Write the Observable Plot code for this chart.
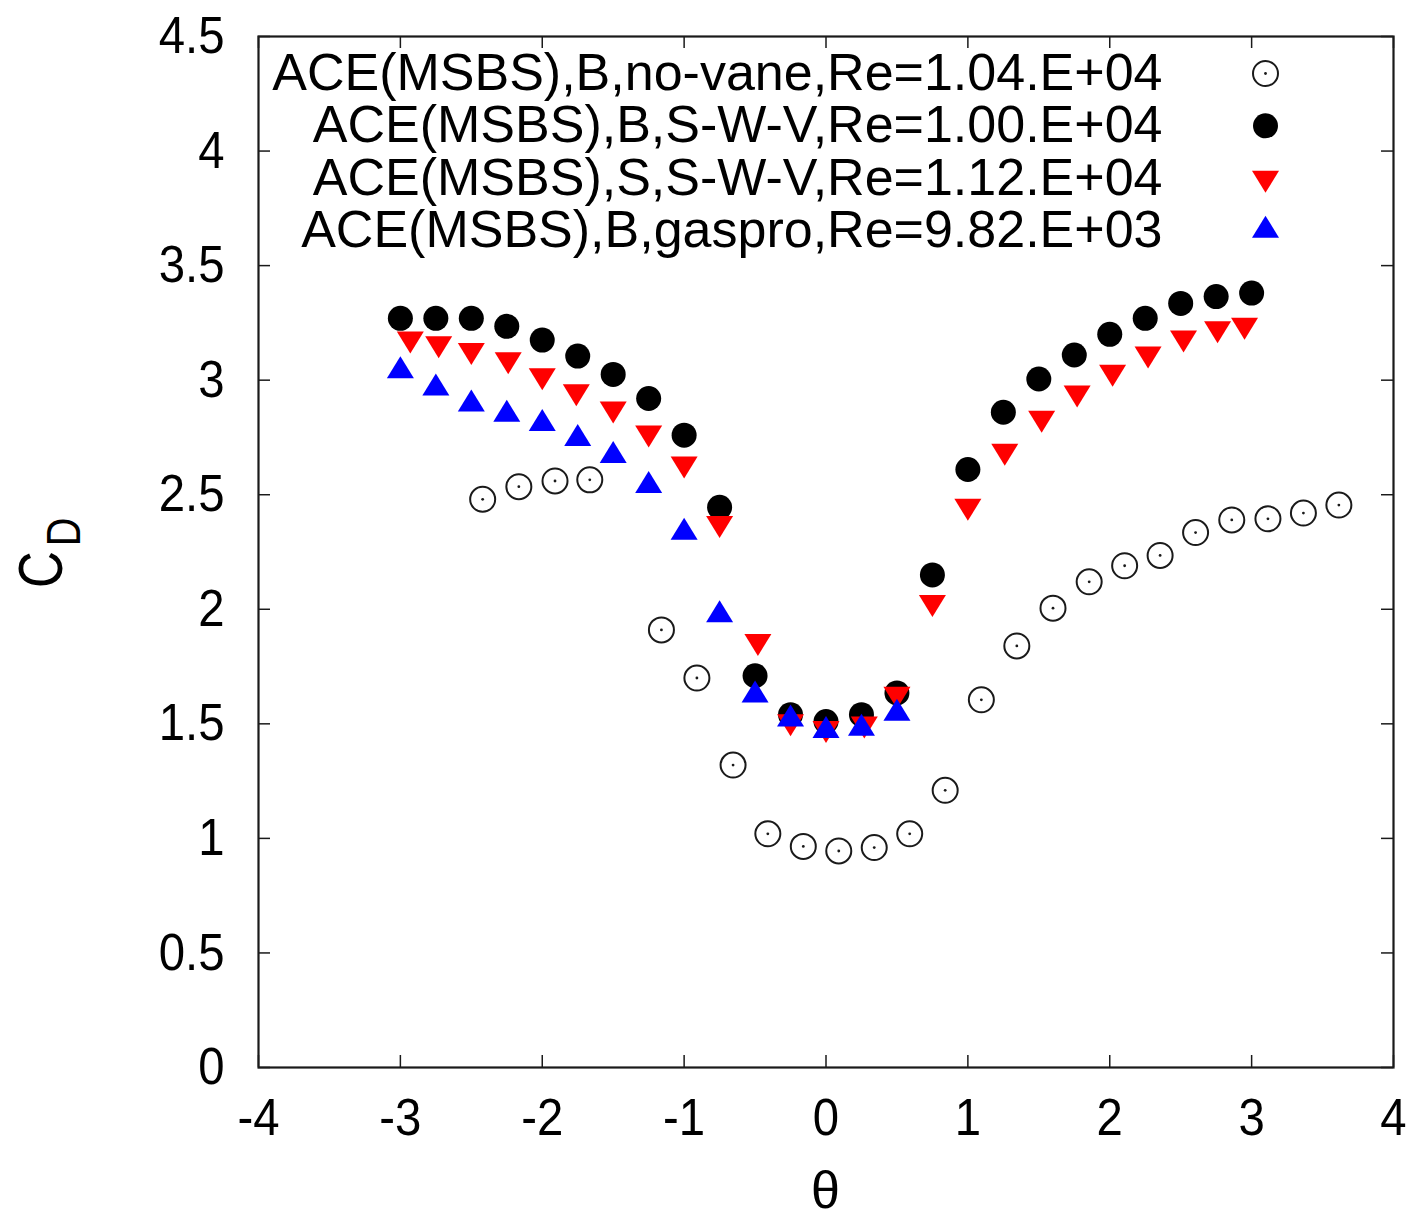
<!DOCTYPE html>
<html>
<head>
<meta charset="utf-8">
<script src="https://cdn.jsdelivr.net/npm/d3@7"></script>
<script src="https://cdn.jsdelivr.net/npm/@observablehq/plot@0.6"></script>
<style>
  body { margin: 0; background: #fff; }
  #chart { width: 1419px; height: 1221px; }
</style>
</head>
<body>
<div id="chart"></div>
<script>
// Drag coefficient C_D against angle θ for the four measurement sets.
const seriesLabels = [
  "ACE(MSBS),B,no-vane,Re=1.04.E+04",
  "ACE(MSBS),B,S-W-V,Re=1.00.E+04",
  "ACE(MSBS),S,S-W-V,Re=1.12.E+04",
  "ACE(MSBS),B,gaspro,Re=9.82.E+03"
];

const thetaNoVane = [-2.42, -2.165, -1.91, -1.665, -1.16, -0.91, -0.655, -0.41, -0.16, 0.09, 0.34, 0.59, 0.84, 1.095, 1.345, 1.6, 1.855, 2.105, 2.355, 2.605, 2.86, 3.115, 3.365, 3.615];
const cdNoVane    = [2.48, 2.535, 2.56, 2.565, 1.91, 1.70, 1.32, 1.02, 0.965, 0.945, 0.96, 1.02, 1.21, 1.605, 1.84, 2.005, 2.12, 2.19, 2.235, 2.335, 2.39, 2.395, 2.42, 2.455];

const thetaSwvB = [-3, -2.75, -2.5, -2.25, -2, -1.75, -1.5, -1.25, -1, -0.75, -0.5, -0.25, 0, 0.25, 0.5, 0.75, 1, 1.25, 1.5, 1.75, 2, 2.25, 2.5, 2.75, 3];
const cdSwvB    = [3.27, 3.27, 3.27, 3.235, 3.175, 3.105, 3.025, 2.92, 2.76, 2.445, 1.71, 1.54, 1.51, 1.54, 1.635, 2.15, 2.61, 2.86, 3.005, 3.11, 3.20, 3.27, 3.335, 3.365, 3.38];

const thetaSwvS = [-2.93, -2.73, -2.5, -2.24, -2.0, -1.76, -1.5, -1.25, -1.0, -0.75, -0.48, -0.25, 0, 0.27, 0.5, 0.75, 1.0, 1.26, 1.52, 1.77, 2.02, 2.27, 2.52, 2.76, 2.95];
const cdSwvS    = [3.18, 3.16, 3.13, 3.09, 3.02, 2.95, 2.875, 2.77, 2.635, 2.375, 1.86, 1.51, 1.48, 1.50, 1.63, 2.03, 2.45, 2.69, 2.835, 2.945, 3.035, 3.115, 3.185, 3.225, 3.24];

const thetaGaspro = [-3, -2.75, -2.5, -2.25, -2, -1.75, -1.5, -1.25, -1, -0.75, -0.5, -0.25, 0, 0.25, 0.5];
const cdGaspro    = [3.04, 2.965, 2.895, 2.85, 2.81, 2.745, 2.67, 2.54, 2.335, 1.975, 1.625, 1.52, 1.47, 1.48, 1.545];

const xTicks = [-4, -3, -2, -1, 0, 1, 2, 3, 4];
const yTicks = [0, 0.5, 1, 1.5, 2, 2.5, 3, 3.5, 4, 4.5];
const yTickLabels = ["0", "0.5", "1", "1.5", "2", "2.5", "3", "3.5", "4", "4.5"];

const W = 1419, H = 1221;
const mL = 258, mR = 26, mT = 36, mB = 154;
const frameW = W - mL - mR, frameH = H - mT - mB;
const tickLen = 12;
const font = "'Liberation Sans', Arial, sans-serif";
const ink = "#1a1a1a";

const rows = (xs, ys) => xs.map((x, i) => ({theta: x, cd: ys[i]}));
const noVane = rows(thetaNoVane, cdNoVane);
const swvB = rows(thetaSwvB, cdSwvB);
const swvS = rows(thetaSwvS, cdSwvS);
const gaspro = rows(thetaGaspro, cdGaspro);

// Triangles centred on their centroid, flatter than equilateral.
const triSym = (down) => ({
  draw(ctx, size) {
    const k = Math.sqrt(size / Math.PI);
    const w = 1.35 * k, h = 2.2 * k, s = down ? 1 : -1;
    ctx.moveTo(-w, -s * h / 3);
    ctx.lineTo(w, -s * h / 3);
    ctx.lineTo(0, s * 2 * h / 3);
    ctx.closePath();
  }
});
const triDown = triSym(true), triUp = triSym(false);

// Marker styles per series (open circle with centre dot, disc, down/up triangles)
const markerMarks = (data, i, extra = {}) => {
  if (i === 0) return [
    Plot.dot(data, {...extra, r: 12.5, fill: "none", stroke: ink, strokeWidth: 2}),
    Plot.dot(data, {...extra, r: 1.4, fill: ink})
  ];
  if (i === 1) return [Plot.dot(data, {...extra, r: 12.5, fill: "#000"})];
  if (i === 2) return [Plot.dot(data, {...extra, r: 10, symbol: triDown, fill: "#ff0000"})];
  return [Plot.dot(data, {...extra, r: 10, symbol: triUp, fill: "#0000ff"})];
};

const seriesData = [noVane, swvB, swvS, gaspro];
const xy = {x: "theta", y: "cd"};

const legendRowY = (i) => 37 + i * 52.3;
const legendMarks = seriesLabels.flatMap((label, i) => [
  Plot.text([label], {
    text: d => d, frameAnchor: "top-right", dx: -231, dy: legendRowY(i),
    textAnchor: "end", lineAnchor: "middle", fontSize: 52, fontFamily: font, fill: "#000"
  }),
  ...markerMarks([label], i, {frameAnchor: "top-right", dx: -128, dy: legendRowY(i)})
]);

const chart = Plot.plot({
  width: W,
  height: H,
  marginLeft: mL,
  marginRight: mR,
  marginTop: mT,
  marginBottom: mB,
  style: {background: "#fff", fontFamily: font, color: "#000"},
  x: {domain: [-4, 4]},
  y: {domain: [0, 4.5]},
  marks: [
    // inward ticks on all four sides
    Plot.tickX(xTicks, {x: d => d, insetTop: frameH - tickLen, stroke: ink, strokeWidth: 1.5}),
    Plot.tickX(xTicks, {x: d => d, insetBottom: frameH - tickLen, stroke: ink, strokeWidth: 1.5}),
    Plot.tickY(yTicks, {y: d => d, insetRight: frameW - tickLen, stroke: ink, strokeWidth: 1.5}),
    Plot.tickY(yTicks, {y: d => d, insetLeft: frameW - tickLen, stroke: ink, strokeWidth: 1.5}),
    Plot.axisX(xTicks, {tickSize: 0, tickPadding: 31, fontSize: 52, tickFormat: d => String(d), label: null, fill: "#000"}),
    Plot.axisY(yTicks, {tickSize: 0, tickPadding: 34, fontSize: 52, tickFormat: d => yTickLabels[yTicks.indexOf(d)], label: null, fill: "#000"}),
    ...seriesData.flatMap((data, i) => markerMarks(data, i, xy)),
    ...legendMarks,
    Plot.frame({stroke: ink, strokeWidth: 2.2})
  ]
});

const svg = d3.select(chart);
// x axis title
svg.append("text")
  .attr("x", mL + frameW / 2)
  .attr("y", 1208)
  .attr("text-anchor", "middle")
  .attr("font-family", font)
  .attr("font-size", 52)
  .attr("fill", "#000")
  .text("θ");
// y axis title C_D, drawn upward
const yl = svg.append("text")
  .attr("transform", "translate(62,588) rotate(-90) scale(0.81,1)")
  .attr("text-anchor", "start")
  .attr("font-family", font)
  .attr("font-size", 63)
  .attr("fill", "#000");
yl.append("tspan").text("C");
yl.append("tspan").attr("font-size", 49).attr("dx", 6).attr("dy", 18).text("D");

document.getElementById("chart").appendChild(chart);

// tick numerals are set slightly condensed
svg.selectAll('g[aria-label="x-axis tick label"] text, g[aria-label="y-axis tick label"] text').each(function () {
  const len = this.getComputedTextLength();
  this.setAttribute("textLength", (len * 0.91).toFixed(1));
  this.setAttribute("lengthAdjust", "spacingAndGlyphs");
});
</script>
</body>
</html>
